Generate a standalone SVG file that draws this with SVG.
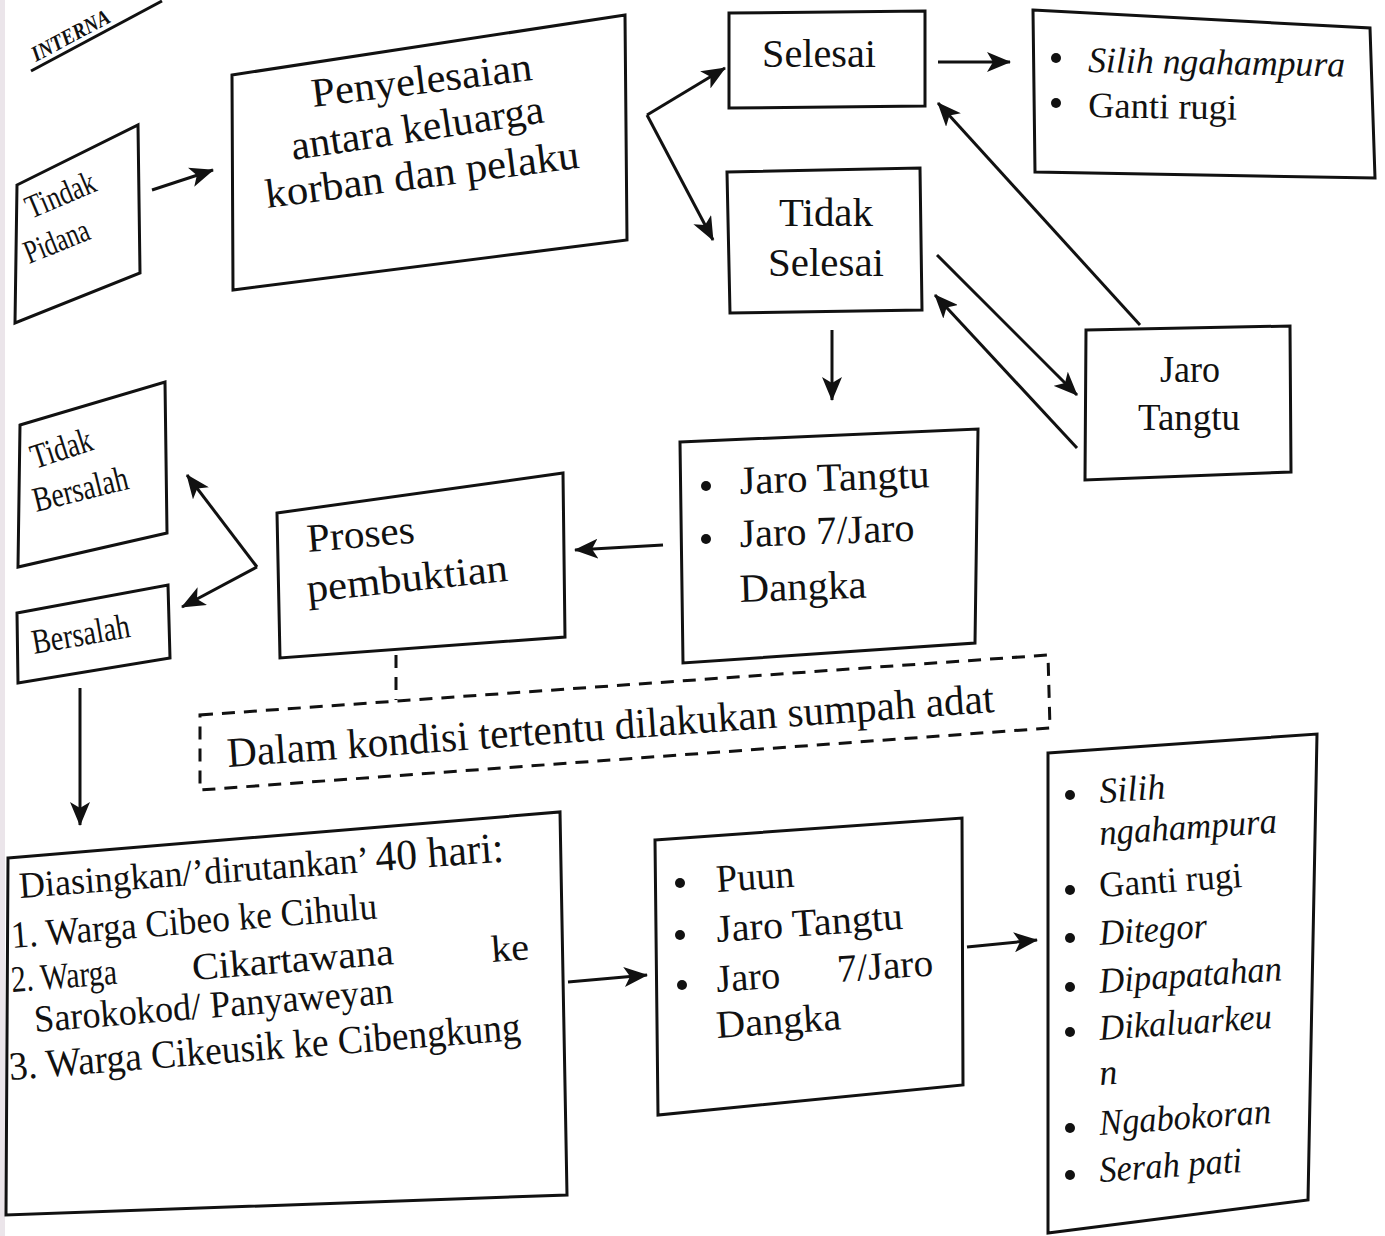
<svg xmlns="http://www.w3.org/2000/svg" width="1385" height="1236" viewBox="0 0 1385 1236">
<style>
.bg{fill:#ffffff}
.box{fill:#ffffff;stroke:#111;stroke-width:3;stroke-linejoin:miter}
.dbox{fill:none;stroke:#111;stroke-width:3;stroke-dasharray:13 9}
.t{font-family:"Liberation Serif","Times New Roman",serif;fill:#111}
.i{font-style:italic}
.b{fill:#111}
.c{stroke:#111;stroke-width:3;fill:none}
.cd{stroke:#111;stroke-width:3;fill:none;stroke-dasharray:13 9}
</style>
<defs>
<marker id="arr" markerUnits="userSpaceOnUse" markerWidth="24" markerHeight="20" refX="23" refY="10" orient="auto">
<path d="M0,0 L24,10 L0,20 L6,10 z" fill="#111"/>
</marker>
</defs>
<rect class="bg" x="0" y="0" width="1385" height="1236"/>
<rect x="0" y="0" width="5" height="1236" fill="#ebe5ea"/>

<g id="header">
<text class="t" x="36" y="62" font-size="22" font-weight="bold" font-style="italic" transform="rotate(-28 36 62)" textLength="86" lengthAdjust="spacingAndGlyphs">INTERNA</text>
<line x1="31" y1="71" x2="162" y2="1" stroke="#111" stroke-width="3"/>
</g>

<g id="tindak-pidana">
<polygon class="box" points="17,185 138,125 140,273 15,323"/>
<text class="t" x="31" y="219" font-size="33" transform="rotate(-23 31 219)" textLength="73" lengthAdjust="spacingAndGlyphs">Tindak</text>
<text class="t" x="29" y="264" font-size="33" transform="rotate(-22 29 264)" textLength="68" lengthAdjust="spacingAndGlyphs">Pidana</text>
</g>

<g id="penyelesaian">
<polygon class="box" points="232,75 625,15 627,240 233,290"/>
<text class="t" x="313" y="107" font-size="41" transform="rotate(-7 313 107)" textLength="222" lengthAdjust="spacingAndGlyphs">Penyelesaian</text>
<text class="t" x="293" y="160" font-size="41" transform="rotate(-8.5 293 160)" textLength="255" lengthAdjust="spacingAndGlyphs">antara keluarga</text>
<text class="t" x="267" y="208" font-size="41" transform="rotate(-7.3 267 208)" textLength="316" lengthAdjust="spacingAndGlyphs">korban dan pelaku</text>
</g>

<g id="selesai">
<polygon class="box" points="729,13 925,11 925,106 729,108"/>
<text class="t" x="762" y="67" font-size="40" textLength="114" lengthAdjust="spacingAndGlyphs">Selesai</text>
</g>

<g id="tidak-selesai">
<polygon class="box" points="727,172 920,168 922,310 730,313"/>
<text class="t" x="779" y="226" font-size="40" textLength="94" lengthAdjust="spacingAndGlyphs">Tidak</text>
<text class="t" x="768" y="276" font-size="40" textLength="116" lengthAdjust="spacingAndGlyphs">Selesai</text>
</g>

<g id="hasil-selesai">
<polygon class="box" points="1033,10 1370,28 1375,178 1035,172"/>
<circle class="b" cx="1056" cy="58" r="5"/>
<circle class="b" cx="1056" cy="103" r="5"/>
<text class="t i" x="1088" y="72" font-size="36" transform="rotate(1 1088 72)" textLength="257" lengthAdjust="spacingAndGlyphs">Silih ngahampura</text>
<text class="t" x="1088" y="117" font-size="36" transform="rotate(1 1088 117)" textLength="149" lengthAdjust="spacingAndGlyphs">Ganti rugi</text>
</g>

<g id="jaro-tangtu">
<polygon class="box" points="1086,330 1290,326 1291,472 1085,480"/>
<text class="t" x="1160" y="382" font-size="37" textLength="60" lengthAdjust="spacingAndGlyphs">Jaro</text>
<text class="t" x="1138" y="430" font-size="37" textLength="102" lengthAdjust="spacingAndGlyphs">Tangtu</text>
</g>

<g id="jaro-list">
<polygon class="box" points="680,442 978,429 975,643 683,663"/>
<circle class="b" cx="706" cy="486" r="5"/>
<circle class="b" cx="706" cy="539" r="5"/>
<text class="t" x="740" y="494" font-size="40" transform="rotate(-2 740 494)" textLength="190" lengthAdjust="spacingAndGlyphs">Jaro Tangtu</text>
<text class="t" x="740" y="547" font-size="40" transform="rotate(-2 740 547)" textLength="175" lengthAdjust="spacingAndGlyphs">Jaro 7/Jaro</text>
<text class="t" x="740" y="602" font-size="40" transform="rotate(-2 740 602)" textLength="127" lengthAdjust="spacingAndGlyphs">Dangka</text>
</g>

<g id="proses-pembuktian">
<polygon class="box" points="277,513 563,473 565,637 280,658"/>
<text class="t" x="308" y="552" font-size="40" transform="rotate(-5 308 552)" textLength="108" lengthAdjust="spacingAndGlyphs">Proses</text>
<text class="t" x="308" y="602" font-size="40" transform="rotate(-6 308 602)" textLength="202" lengthAdjust="spacingAndGlyphs">pembuktian</text>
</g>

<g id="tidak-bersalah">
<polygon class="box" points="20,425 165,382 167,533 18,567"/>
<text class="t" x="35" y="469" font-size="35" transform="rotate(-18 35 469)" textLength="63" lengthAdjust="spacingAndGlyphs">Tidak</text>
<text class="t" x="36" y="512" font-size="35" transform="rotate(-14 36 512)" textLength="97" lengthAdjust="spacingAndGlyphs">Bersalah</text>
</g>

<g id="bersalah">
<polygon class="box" points="17,613 168,585 170,658 18,683"/>
<text class="t" x="34" y="654" font-size="35" transform="rotate(-10 34 654)" textLength="99" lengthAdjust="spacingAndGlyphs">Bersalah</text>
</g>

<g id="sumpah-adat">
<polygon class="dbox" points="200,715 1048,655 1050,728 200,790"/>
<text class="t" x="228" y="767" font-size="42" transform="rotate(-4.1 228 767)" textLength="769" lengthAdjust="spacingAndGlyphs">Dalam kondisi tertentu dilakukan sumpah adat</text>
</g>

<g id="diasingkan">
<polygon class="box" points="8,858 560,812 567,1195 6,1215"/>
<text class="t" x="20" y="898" font-size="37" transform="rotate(-4.3 20 898)" textLength="486" lengthAdjust="spacingAndGlyphs">Diasingkan/’dirutankan’ <tspan font-size="43">40 hari:</tspan></text>
<text class="t" x="12" y="948" font-size="38" transform="rotate(-4.6 12 948)" textLength="367" lengthAdjust="spacingAndGlyphs">1. Warga Cibeo ke Cihulu</text>
<text class="t" x="12" y="992" font-size="37" transform="rotate(-4.5 12 992)" textLength="106" lengthAdjust="spacingAndGlyphs">2. Warga</text>
<text class="t" x="193" y="980" font-size="38" transform="rotate(-4.5 193 980)" textLength="202" lengthAdjust="spacingAndGlyphs">Cikartawana</text>
<text class="t" x="492" y="962" font-size="38" transform="rotate(-4.5 492 962)" textLength="38" lengthAdjust="spacingAndGlyphs">ke</text>
<text class="t" x="35" y="1032" font-size="38" transform="rotate(-4.6 35 1032)" textLength="360" lengthAdjust="spacingAndGlyphs">Sarokokod/ Panyaweyan</text>
<text class="t" x="10" y="1080" font-size="40" transform="rotate(-4.5 10 1080)" textLength="513" lengthAdjust="spacingAndGlyphs">3. Warga Cikeusik ke Cibengkung</text>
</g>

<g id="puun">
<polygon class="box" points="655,840 962,818 963,1085 658,1115"/>
<circle class="b" cx="680" cy="883" r="5"/>
<circle class="b" cx="680" cy="935" r="5"/>
<circle class="b" cx="682" cy="985" r="5"/>
<text class="t" x="717" y="892" font-size="39" transform="rotate(-4 717 892)" textLength="78" lengthAdjust="spacingAndGlyphs">Puun</text>
<text class="t" x="717" y="942" font-size="39" transform="rotate(-4 717 942)" textLength="187" lengthAdjust="spacingAndGlyphs">Jaro Tangtu</text>
<text class="t" x="717" y="992" font-size="39" transform="rotate(-4 717 992)" textLength="64" lengthAdjust="spacingAndGlyphs">Jaro</text>
<text class="t" x="838" y="982" font-size="39" transform="rotate(-4 838 982)" textLength="96" lengthAdjust="spacingAndGlyphs">7/Jaro</text>
<text class="t" x="717" y="1038" font-size="39" transform="rotate(-4 717 1038)" textLength="125" lengthAdjust="spacingAndGlyphs">Dangka</text>
</g>

<g id="sanksi">
<polygon class="box" points="1048,753 1317,734 1308,1200 1048,1233"/>
<circle class="b" cx="1070" cy="795" r="5"/>
<circle class="b" cx="1070" cy="890" r="5"/>
<circle class="b" cx="1070" cy="938" r="5"/>
<circle class="b" cx="1070" cy="987" r="5"/>
<circle class="b" cx="1070" cy="1032" r="5"/>
<circle class="b" cx="1070" cy="1128" r="5"/>
<circle class="b" cx="1070" cy="1175" r="5"/>
<text class="t i" x="1100" y="803" font-size="36" transform="rotate(-4 1100 803)" textLength="66" lengthAdjust="spacingAndGlyphs">Silih</text>
<text class="t i" x="1100" y="845" font-size="36" transform="rotate(-4 1100 845)" textLength="178" lengthAdjust="spacingAndGlyphs">ngahampura</text>
<text class="t" x="1100" y="897" font-size="36" transform="rotate(-4 1100 897)" textLength="143" lengthAdjust="spacingAndGlyphs">Ganti rugi</text>
<text class="t i" x="1100" y="945" font-size="36" transform="rotate(-4 1100 945)" textLength="108" lengthAdjust="spacingAndGlyphs">Ditegor</text>
<text class="t i" x="1100" y="993" font-size="36" transform="rotate(-4 1100 993)" textLength="183" lengthAdjust="spacingAndGlyphs">Dipapatahan</text>
<text class="t i" x="1100" y="1040" font-size="36" transform="rotate(-4 1100 1040)" textLength="173" lengthAdjust="spacingAndGlyphs">Dikaluarkeu</text>
<text class="t i" x="1100" y="1085" font-size="36" transform="rotate(-4 1100 1085)">n</text>
<text class="t i" x="1100" y="1135" font-size="36" transform="rotate(-4 1100 1135)" textLength="172" lengthAdjust="spacingAndGlyphs">Ngabokoran</text>
<text class="t i" x="1100" y="1182" font-size="36" transform="rotate(-4 1100 1182)" textLength="143" lengthAdjust="spacingAndGlyphs">Serah pati</text>
</g>

<g id="connectors">
<line class="c" x1="152" y1="190" x2="213" y2="170" marker-end="url(#arr)"/>
<line class="c" x1="647" y1="115" x2="725" y2="68" marker-end="url(#arr)"/>
<line class="c" x1="647" y1="115" x2="713" y2="240" marker-end="url(#arr)"/>
<line class="c" x1="938" y1="62" x2="1010" y2="62" marker-end="url(#arr)"/>
<line class="c" x1="1140" y1="325" x2="938" y2="103" marker-end="url(#arr)"/>
<line class="c" x1="937" y1="255" x2="1077" y2="395" marker-end="url(#arr)"/>
<line class="c" x1="1077" y1="448" x2="935" y2="295" marker-end="url(#arr)"/>
<line class="c" x1="832" y1="330" x2="832" y2="400" marker-end="url(#arr)"/>
<line class="c" x1="663" y1="545" x2="575" y2="550" marker-end="url(#arr)"/>
<line class="c" x1="257" y1="567" x2="187" y2="475" marker-end="url(#arr)"/>
<line class="c" x1="257" y1="567" x2="182" y2="607" marker-end="url(#arr)"/>
<line class="c" x1="80" y1="688" x2="80" y2="825" marker-end="url(#arr)"/>
<line class="c" x1="568" y1="982" x2="647" y2="975" marker-end="url(#arr)"/>
<line class="c" x1="967" y1="947" x2="1037" y2="940" marker-end="url(#arr)"/>
<line class="cd" x1="396" y1="655" x2="396" y2="700"/>
</g>
</svg>
